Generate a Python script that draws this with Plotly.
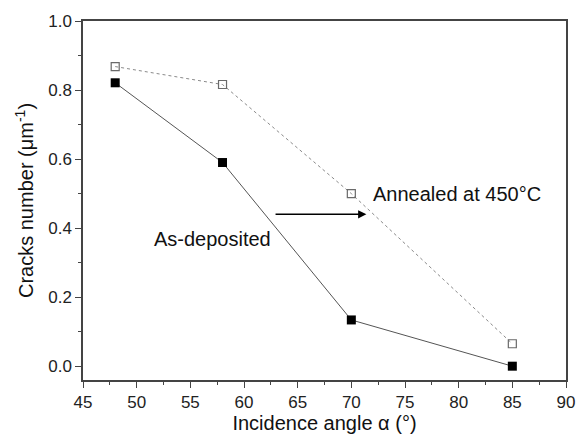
import plotly.graph_objects as go

angles = [48, 58, 70, 85]
as_deposited = [0.821, 0.590, 0.134, 0.0]
annealed = [0.868, 0.816, 0.500, 0.065]

x_ticks = [45, 50, 55, 60, 65, 70, 75, 80, 85, 90]
y_ticks = [0.0, 0.2, 0.4, 0.6, 0.8, 1.0]

font_family = "Liberation Sans, Arial, sans-serif"

fig = go.Figure()
fig.add_trace(go.Scatter(
    x=angles, y=annealed, mode="lines+markers",
    line=dict(color="#8a8a8a", width=1, dash="dot"),
    marker=dict(symbol="square-open", size=8, color="#6a6a6a", line=dict(width=1.2, color="#6a6a6a")),
    showlegend=False,
))
fig.add_trace(go.Scatter(
    x=angles, y=as_deposited, mode="lines+markers",
    line=dict(color="#555555", width=1),
    marker=dict(symbol="square", size=9, color="#000000"),
    showlegend=False,
))

fig.add_annotation(x=71.4, y=0.44, ax=62.8, ay=0.44, xref="x", yref="y", axref="x", ayref="y",
                   text="", showarrow=True, arrowhead=2, arrowsize=1.1, arrowwidth=1.5, arrowcolor="#000000")
fig.add_annotation(x=71.8, y=0.50, xref="x", yref="y", text="Annealed at 450°C", showarrow=False,
                   xanchor="left", yanchor="middle", font=dict(size=20, color="#111111", family=font_family))
fig.add_annotation(x=57.1, y=0.368, xref="x", yref="y", text="As-deposited", showarrow=False,
                   xanchor="center", yanchor="middle", font=dict(size=20, color="#111111", family=font_family))

axis_common = dict(
    showline=True, linecolor="#444444", linewidth=1.5, mirror=True,
    ticks="outside", ticklen=6, tickwidth=1.2, tickcolor="#444444",
    showgrid=False, zeroline=False,
    tickfont=dict(size=17, color="#222222", family=font_family),
)

fig.update_xaxes(
    range=[45, 90], tickvals=x_ticks, ticktext=[str(v) for v in x_ticks],
    minor=dict(dtick=2.5, tick0=45, ticks="outside", ticklen=3, tickcolor="#444444", showgrid=False),
    title=dict(text="Incidence angle α (°)", font=dict(size=20, color="#111111", family=font_family), standoff=5),
    **axis_common,
)
fig.update_yaxes(
    range=[-0.04, 1.0], tickvals=y_ticks, ticktext=[f"{v:.1f}" for v in y_ticks],
    minor=dict(dtick=0.1, tick0=0, ticks="outside", ticklen=3, tickcolor="#444444", showgrid=False),
    title=dict(text="Cracks number (μm<sup>-1</sup>)", font=dict(size=20, color="#111111", family=font_family), standoff=9),
    **axis_common,
)

fig.update_layout(
    width=587, height=443,
    margin=dict(l=83, r=19, t=18, b=63),
    paper_bgcolor="white", plot_bgcolor="white",
    font=dict(family=font_family),
)

fig.write_html("out.html")
